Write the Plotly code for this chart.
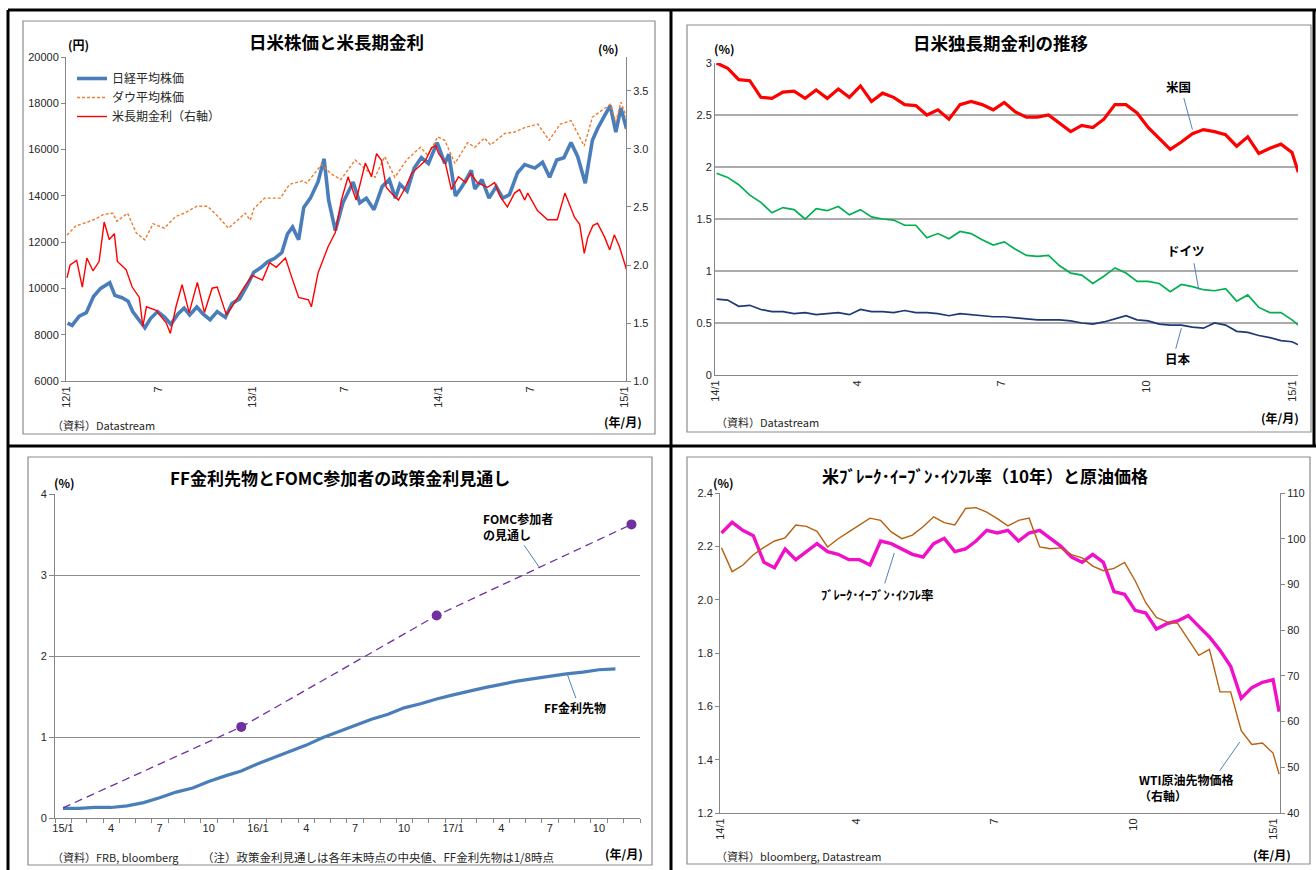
import pandas as pd
import plotly.graph_objects as go

W, H = 1316, 870
JP = "Noto Sans CJK JP"
NUM = "Liberation Sans"
AXIS_GRAY = "#868686"
TXT = "#262626"


def fx(p):
    return p / W


def fy(p):
    return 1 - p / H


# ---------------- 日米株価と米長期金利 (2012/1 - 2015/1) ----------------
NIKKEI_DATES = [
    "2012-01-04", "2012-01-13", "2012-01-27", "2012-02-10", "2012-02-24", "2012-03-09", "2012-03-27",
    "2012-04-06", "2012-04-20", "2012-05-02", "2012-05-11", "2012-05-25", "2012-06-04", "2012-06-15",
    "2012-06-29", "2012-07-13", "2012-07-25", "2012-08-08", "2012-08-20", "2012-08-31", "2012-09-14",
    "2012-09-26", "2012-10-10", "2012-10-24", "2012-11-09", "2012-11-22", "2012-12-07", "2012-12-21",
    "2013-01-04", "2013-01-18", "2013-01-31", "2013-02-14", "2013-02-28", "2013-03-11", "2013-03-21",
    "2013-04-02", "2013-04-12", "2013-04-25", "2013-05-10", "2013-05-22", "2013-05-31", "2013-06-13",
    "2013-06-28", "2013-07-18", "2013-07-31", "2013-08-13", "2013-08-28", "2013-09-13", "2013-09-27",
    "2013-10-09", "2013-10-18", "2013-11-01", "2013-11-15", "2013-11-29", "2013-12-13", "2013-12-30",
    "2014-01-14", "2014-01-22", "2014-02-04", "2014-02-17", "2014-03-07", "2014-03-14", "2014-03-28",
    "2014-04-11", "2014-04-25", "2014-05-08", "2014-05-21", "2014-06-06", "2014-06-20", "2014-07-10",
    "2014-07-25", "2014-08-08", "2014-08-22", "2014-09-05", "2014-09-19", "2014-10-02", "2014-10-17",
    "2014-10-31", "2014-11-10", "2014-11-21", "2014-12-05", "2014-12-16", "2014-12-26", "2015-01-06",
]
NIKKEI_YEN = [
    8500, 8400, 8800, 8950, 9650, 10000, 10250,
    9700, 9600, 9450, 9000, 8600, 8300, 8700,
    9000, 8750, 8450, 8900, 9150, 8850, 9200,
    8900, 8650, 9000, 8750, 9350, 9550, 10100,
    10700, 10900, 11150, 11300, 11550, 12350, 12650,
    12100, 13500, 13900, 14600, 15600, 13800, 12500,
    13700, 14600, 13700, 13900, 13400, 14400, 14700,
    13900, 14500, 14200, 15200, 15650, 15400, 16300,
    15400, 15800, 14000, 14400, 15100, 14300, 14700,
    13900, 14400, 13900, 14050, 15000, 15350, 15200,
    15450, 14800, 15550, 15650, 16300, 15700, 14550,
    16400, 16900, 17350, 17900, 16750, 17800, 16900,
]

DOW_DATES = [
    "2012-01-03", "2012-01-20", "2012-02-10", "2012-02-28", "2012-03-15", "2012-04-02", "2012-04-10",
    "2012-05-01", "2012-05-18", "2012-06-04", "2012-06-20", "2012-07-12", "2012-08-03", "2012-08-20",
    "2012-09-14", "2012-10-05", "2012-10-26", "2012-11-15", "2012-12-03", "2012-12-18", "2012-12-28",
    "2013-01-04", "2013-01-25", "2013-02-25", "2013-03-15", "2013-04-10", "2013-04-18", "2013-05-17",
    "2013-06-05", "2013-06-24", "2013-07-22", "2013-08-30", "2013-09-18", "2013-10-08", "2013-10-31",
    "2013-11-27", "2013-12-12", "2013-12-31", "2014-01-14", "2014-02-03", "2014-02-28", "2014-03-14",
    "2014-04-02", "2014-04-14", "2014-05-12", "2014-05-30", "2014-06-20", "2014-07-16", "2014-08-07",
    "2014-08-29", "2014-09-19", "2014-10-15", "2014-10-31", "2014-11-26", "2014-12-05", "2014-12-16",
    "2014-12-26", "2015-01-06",
]
DOW_USD = [
    12300, 12700, 12850, 13000, 13200, 13250, 12900,
    13250, 12400, 12100, 12800, 12600, 13100, 13250,
    13550, 13550, 13100, 12600, 12950, 13250, 12950,
    13450, 13900, 13900, 14500, 14650, 14550, 15350,
    14950, 14700, 15550, 14800, 15700, 14800, 15550,
    16100, 15750, 16550, 16400, 15400, 16300, 16100,
    16500, 16200, 16700, 16750, 16950, 17100, 16400,
    17100, 17250, 16150, 17400, 17800, 17950, 17200,
    18050, 17400,
]

UST_DATES = [
    "2012-01-03", "2012-01-09", "2012-01-22", "2012-02-02", "2012-02-11", "2012-02-23", "2012-03-06",
    "2012-03-16", "2012-03-26", "2012-04-05", "2012-04-11", "2012-04-28", "2012-05-10", "2012-05-24",
    "2012-05-31", "2012-06-07", "2012-06-26", "2012-07-16", "2012-07-24", "2012-08-04", "2012-08-16",
    "2012-08-30", "2012-09-15", "2012-09-29", "2012-10-14", "2012-10-24", "2012-11-11", "2012-11-22",
    "2012-12-16", "2013-01-01", "2013-01-21", "2013-02-04", "2013-02-17", "2013-03-07", "2013-03-19",
    "2013-04-02", "2013-04-21", "2013-04-27", "2013-05-10", "2013-05-30", "2013-06-13", "2013-06-25",
    "2013-07-08", "2013-07-24", "2013-08-11", "2013-08-23", "2013-09-02", "2013-09-12", "2013-09-21",
    "2013-10-01", "2013-10-15", "2013-10-29", "2013-11-10", "2013-11-23", "2013-12-07", "2013-12-19",
    "2013-12-27", "2014-01-02", "2014-01-15", "2014-01-27", "2014-02-10", "2014-02-24", "2014-03-06",
    "2014-03-19", "2014-04-08", "2014-04-22", "2014-05-03", "2014-05-17", "2014-05-31", "2014-06-10",
    "2014-06-20", "2014-06-26", "2014-07-15", "2014-08-04", "2014-08-23", "2014-09-07", "2014-09-26",
    "2014-10-06", "2014-10-15", "2014-10-22", "2014-11-01", "2014-11-10", "2014-11-24", "2014-12-04",
    "2014-12-13", "2014-12-23", "2015-01-06",
]
UST_10Y = [
    1.89, 2.00, 2.04, 1.81, 2.06, 1.95, 2.03,
    2.37, 2.22, 2.27, 2.03, 1.96, 1.81, 1.72,
    1.47, 1.64, 1.61, 1.50, 1.41, 1.64, 1.83,
    1.59, 1.85, 1.59, 1.80, 1.81, 1.57, 1.64,
    1.81, 1.91, 1.87, 2.02, 1.98, 2.06, 1.90,
    1.72, 1.70, 1.64, 1.93, 2.16, 2.28, 2.56,
    2.76, 2.56, 2.88, 2.76, 2.96, 2.90, 2.67,
    2.62, 2.56, 2.67, 2.79, 2.84, 2.90, 3.01,
    3.03, 2.96, 2.88, 2.65, 2.76, 2.71, 2.79,
    2.71, 2.67, 2.71, 2.59, 2.50, 2.62, 2.65,
    2.56, 2.62, 2.47, 2.39, 2.39, 2.62, 2.41,
    2.35, 2.10, 2.24, 2.34, 2.36, 2.24, 2.13,
    2.26, 2.16, 1.96,
]
TL_TICK_DATES = ["2012-01-01", "2012-07-01", "2013-01-01", "2013-07-01", "2014-01-01", "2014-07-01", "2015-01-01"]
TL_TICK_TEXT = ["12/1", "7", "13/1", "7", "14/1", "7", "15/1"]

# ---------------- 週次データ (2014/1 - 2015/1) ----------------
WEEKS = list(pd.date_range("2014-01-02", periods=53, freq="7D").strftime("%Y-%m-%d")) + ["2015-01-05"]

US_10Y = [
    3.00, 2.95, 2.84, 2.83, 2.67, 2.66, 2.72, 2.73, 2.66, 2.74,
    2.66, 2.75, 2.67, 2.78, 2.63, 2.71, 2.67, 2.60, 2.59, 2.50,
    2.55, 2.46, 2.60, 2.63, 2.60, 2.55, 2.62, 2.53, 2.48, 2.48,
    2.50, 2.42, 2.34, 2.40, 2.38, 2.46, 2.60, 2.60, 2.52, 2.38,
    2.28, 2.17, 2.24, 2.32, 2.36, 2.34, 2.31, 2.20, 2.29, 2.13,
    2.18, 2.22, 2.14, 1.95,
]
DE_10Y = [
    1.94, 1.90, 1.83, 1.73, 1.66, 1.56, 1.61, 1.59, 1.50, 1.60,
    1.58, 1.62, 1.54, 1.59, 1.52, 1.50, 1.49, 1.44, 1.44, 1.32,
    1.36, 1.31, 1.38, 1.36, 1.30, 1.25, 1.28, 1.21, 1.15, 1.14,
    1.15, 1.05, 0.98, 0.96, 0.88, 0.95, 1.03, 0.98, 0.90, 0.90,
    0.88, 0.80, 0.87, 0.85, 0.82, 0.81, 0.83, 0.71, 0.77, 0.65,
    0.60, 0.60, 0.53, 0.48,
]
JP_10Y = [
    0.73, 0.72, 0.66, 0.67, 0.63, 0.61, 0.61, 0.59, 0.60, 0.58,
    0.59, 0.60, 0.58, 0.63, 0.61, 0.61, 0.60, 0.62, 0.60, 0.60,
    0.59, 0.57, 0.59, 0.58, 0.57, 0.56, 0.56, 0.55, 0.54, 0.53,
    0.53, 0.53, 0.52, 0.50, 0.49, 0.51, 0.54, 0.57, 0.53, 0.52,
    0.49, 0.48, 0.48, 0.46, 0.45, 0.50, 0.48, 0.42, 0.41, 0.38,
    0.36, 0.33, 0.32, 0.29,
]
BEI_10Y = [
    2.25, 2.29, 2.26, 2.24, 2.14, 2.12, 2.19, 2.15, 2.18, 2.21,
    2.18, 2.17, 2.15, 2.15, 2.13, 2.22, 2.21, 2.19, 2.17, 2.16,
    2.21, 2.23, 2.18, 2.19, 2.22, 2.26, 2.25, 2.26, 2.22, 2.25,
    2.26, 2.23, 2.20, 2.16, 2.14, 2.17, 2.14, 2.03, 2.02, 1.96,
    1.95, 1.89, 1.91, 1.92, 1.94, 1.90, 1.86, 1.81, 1.75, 1.63,
    1.67, 1.69, 1.70, 1.58,
]
WTI_USD = [
    98.0, 92.8, 94.2, 96.5, 98.1, 99.5, 100.2, 103.0, 102.7, 101.6,
    98.2, 100.0, 101.5, 103.0, 104.5, 104.0, 101.5, 100.0, 100.8, 102.6,
    104.8, 103.5, 103.0, 106.6, 106.8, 105.8, 104.4, 102.8, 104.0, 104.5,
    98.2, 97.8, 98.0, 96.5, 95.8, 94.0, 93.0, 93.5, 94.8, 90.8,
    86.0, 82.8, 81.8, 81.5, 78.0, 74.5, 75.8, 66.5, 66.5, 58.0,
    55.0, 55.3, 53.1, 48.5,
]
Y14_TICK_DATES = ["2014-01-01", "2014-04-01", "2014-07-01", "2014-10-01", "2015-01-01"]
Y14_TICK_TEXT = ["14/1", "4", "7", "10", "15/1"]

# ---------------- FF金利先物とFOMC見通し (月次, 2015/1 - 2017/12) ----------------
FF_MONTHS = list((pd.date_range("2015-01-01", periods=36, freq="MS") + pd.Timedelta(days=15)).strftime("%Y-%m-%d"))
FF_FUTURES = [
    0.12, 0.12, 0.13, 0.13, 0.15, 0.19, 0.25, 0.32, 0.37, 0.45,
    0.52, 0.58, 0.67, 0.75, 0.83, 0.90, 0.99, 1.07, 1.15, 1.22,
    1.28, 1.36, 1.41, 1.47, 1.52, 1.57, 1.61, 1.65, 1.69, 1.72,
    1.75, 1.78, 1.80, 1.83, 1.84, None,
]
FOMC_DATES = ["2015-01-16", "2015-12-16", "2016-12-16", "2017-12-16"]
FOMC_MEDIAN = [0.125, 1.125, 2.5, 3.625]
FOMC_MARKER = [0, 10, 10, 10]
FF_TICK_TEXT = ["15/1", "4", "7", "10", "16/1", "4", "7", "10", "17/1", "4", "7", "10"]

fig = go.Figure()

# 日米株価と米長期金利
fig.add_trace(go.Scatter(x=NIKKEI_DATES, y=NIKKEI_YEN, name="日経平均株価", mode="lines",
                         line=dict(color="#4A7EBB", width=3.6), xaxis="x", yaxis="y"))
fig.add_trace(go.Scatter(x=DOW_DATES, y=DOW_USD, name="ダウ平均株価", mode="lines",
                         line=dict(color="#ED7D31", width=1.4, dash="3px,2px"), xaxis="x", yaxis="y"))
fig.add_trace(go.Scatter(x=UST_DATES, y=UST_10Y, name="米長期金利（右軸）", mode="lines",
                         line=dict(color="#FF0000", width=1.4), xaxis="x", yaxis="y2"))

# 日米独長期金利
fig.add_trace(go.Scatter(x=WEEKS, y=US_10Y, mode="lines", showlegend=False,
                         line=dict(color="#FF0000", width=3.2), xaxis="x2", yaxis="y3"))
fig.add_trace(go.Scatter(x=WEEKS, y=DE_10Y, mode="lines", showlegend=False,
                         line=dict(color="#00B050", width=1.7), xaxis="x2", yaxis="y3"))
fig.add_trace(go.Scatter(x=WEEKS, y=JP_10Y, mode="lines", showlegend=False,
                         line=dict(color="#1F3A73", width=1.7), xaxis="x2", yaxis="y3"))

# FF金利先物とFOMC見通し
fig.add_trace(go.Scatter(x=FF_MONTHS, y=FF_FUTURES, mode="lines", showlegend=False,
                         line=dict(color="#4A7EBB", width=3.2), xaxis="x3", yaxis="y4"))
fig.add_trace(go.Scatter(x=FOMC_DATES, y=FOMC_MEDIAN, mode="lines+markers", showlegend=False,
                         line=dict(color="#7030A0", width=1.3, dash="8px,5px"),
                         marker=dict(color="#7030A0", size=FOMC_MARKER, opacity=1,
                                     line=dict(width=0)),
                         xaxis="x3", yaxis="y4"))

# ブレーク・イーブン・インフレ率と原油価格
fig.add_trace(go.Scatter(x=WEEKS, y=BEI_10Y, mode="lines", showlegend=False,
                         line=dict(color="#F010C8", width=3.4), xaxis="x4", yaxis="y5"))
fig.add_trace(go.Scatter(x=WEEKS, y=WTI_USD, mode="lines", showlegend=False,
                         line=dict(color="#B8600F", width=1.4), xaxis="x4", yaxis="y6"))

tick_font = dict(family=NUM, size=11, color=TXT)
base_axis = dict(showline=True, linecolor=AXIS_GRAY, linewidth=1, showgrid=False, zeroline=False,
                 tickfont=tick_font, automargin=False, fixedrange=True)

fig.update_layout(
    width=W, height=H, autosize=False,
    margin=dict(l=0, r=0, t=0, b=0),
    paper_bgcolor="white", plot_bgcolor="rgba(0,0,0,0)",
    showlegend=True,
    legend=dict(x=fx(72), y=fy(64), xanchor="left", yanchor="top",
                font=dict(family=JP, size=12, color=TXT), bgcolor="rgba(0,0,0,0)",
                tracegroupgap=0, itemwidth=30),
    xaxis=dict(base_axis, domain=[fx(66), fx(626)], anchor="y", type="date",
               range=["2012-01-01", "2015-01-05"], tickmode="array",
               tickvals=TL_TICK_DATES, ticktext=TL_TICK_TEXT, tickangle=-90, ticks=""),
    yaxis=dict(base_axis, domain=[fy(381), fy(57)], anchor="x", range=[6000, 20000],
               dtick=2000, tickformat="d", ticks="outside", ticklen=4, tickcolor=AXIS_GRAY),
    yaxis2=dict(base_axis, overlaying="y", anchor="x", side="right", range=[1.0, 3.793],
                tickmode="array", tickvals=[1.0, 1.5, 2.0, 2.5, 3.0, 3.5], tickformat=".1f",
                ticks="outside", ticklen=4, tickcolor=AXIS_GRAY),
    xaxis2=dict(base_axis, domain=[fx(715), fx(1298)], anchor="y3", type="date",
                range=["2014-01-01", "2015-01-04 19:00"], tickmode="array",
                tickvals=Y14_TICK_DATES, ticktext=Y14_TICK_TEXT, tickangle=-90, ticks=""),
    yaxis3=dict(base_axis, domain=[fy(375), fy(63)], anchor="x2", range=[0, 3.0001], dtick=0.5,
                showgrid=True, gridcolor="#ABABAB", gridwidth=1.6, ticks=""),
    xaxis3=dict(base_axis, domain=[fx(55), fx(640)], anchor="y4", type="date",
                range=["2015-01-01", "2018-01-01"], tickmode="array",
                tickvals=FF_MONTHS[::3], ticktext=FF_TICK_TEXT, ticks="",
                minor=dict(tickmode="array",
                           tickvals=list(pd.date_range("2015-01-01", "2018-01-01", freq="MS").strftime("%Y-%m-%d")),
                           ticks="outside", ticklen=4, tickcolor=AXIS_GRAY, showgrid=False)),
    yaxis4=dict(base_axis, domain=[fy(818), fy(494)], anchor="x3", range=[0, 4.0001], dtick=1,
                showgrid=True, gridcolor="#8C8C8C", gridwidth=1, ticks="outside", ticklen=5,
                tickcolor=AXIS_GRAY),
    xaxis4=dict(base_axis, domain=[fx(720), fx(1280)], anchor="y5", type="date",
                range=["2014-01-01", "2015-01-05 14:00"], tickmode="array",
                tickvals=Y14_TICK_DATES, ticktext=Y14_TICK_TEXT, tickangle=-90, ticks=""),
    yaxis5=dict(base_axis, domain=[fy(813), fy(493)], anchor="x4", range=[1.2, 2.4], dtick=0.2,
                tickformat=".1f", ticks="outside", ticklen=4, tickcolor=AXIS_GRAY),
    yaxis6=dict(base_axis, overlaying="y5", anchor="x4", side="right", range=[40, 110], dtick=10,
                ticks="outside", ticklen=4, tickcolor=AXIS_GRAY),
)

# panel frames and black cell borders
shapes = []
for x0, y0, x1, y1 in [(23, 21, 655, 434), (687, 25, 1311, 432), (28, 457, 652, 865), (687, 457, 1310, 864)]:
    shapes.append(dict(type="rect", xref="paper", yref="paper", x0=fx(x0), y0=fy(y0), x1=fx(x1), y1=fy(y1),
                       line=dict(color="#8C8C8C", width=1.2), fillcolor="rgba(0,0,0,0)", layer="below"))
for x0, y0, x1, y1 in [(8, 10, 1316, 10), (8, 10, 8, 870), (671, 10, 671, 870), (8, 446, 1316, 446),
                       (1314, 10, 1314, 446)]:
    shapes.append(dict(type="line", xref="paper", yref="paper", x0=fx(x0), y0=fy(y0), x1=fx(x1), y1=fy(y1),
                       line=dict(color="black", width=3)))
fig.update_layout(shapes=shapes)

ann = []


def text(s, x, y, size=11, bold=False, anchor="center", color=TXT):
    ann.append(dict(text=f"<b>{s}</b>" if bold else s, x=fx(x), y=fy(y), xref="paper", yref="paper",
                    xanchor=anchor, yanchor="middle", showarrow=False,
                    font=dict(family=JP, size=size, color=color)))


# titles
text("日米株価と米長期金利", 336, 41, 17.5, True, color="black")
text("日米独長期金利の推移", 1000, 43, 17.5, True, color="black")
text("FF金利先物とFOMC参加者の政策金利見通し", 340, 477, 17, True, color="black")
text("米ﾌﾞﾚｰｸ･ｲｰﾌﾞﾝ･ｲﾝﾌﾚ率（10年）と原油価格", 985, 475, 17, True, color="black")

# units
text("(円)", 78, 45, 12, True, color="black")
text("(%)", 608, 49, 12, True, color="black")
text("(年/月)", 623, 421, 12, True, color="black")
text("(%)", 724, 48, 12, True, color="black")
text("(年/月)", 1280, 418, 12, True, color="black")
text("(%)", 64, 482, 12, True, color="black")
text("(年/月)", 624, 853, 12, True, color="black")
text("(%)", 723, 482, 12, True, color="black")
text("(年/月)", 1272, 854, 12, True, color="black")

# sources and notes
text("（資料）Datastream", 50, 425, 11, anchor="left")
text("（資料）Datastream", 714, 422, 11, anchor="left")
text("（資料）FRB, bloomberg", 50, 857, 11, anchor="left")
text("（注）政策金利見通しは各年末時点の中央値、FF金利先物は1/8時点", 200, 857, 11.5, anchor="left")
text("（資料）bloomberg, Datastream", 714, 856, 11, anchor="left")


def label(s, x, y, xref, yref, anchor="center", size=12.5):
    ann.append(dict(text=f"<b>{s}</b>", x=x, y=y, xref=xref, yref=yref, xanchor=anchor, yanchor="middle",
                    align="left" if anchor == "left" else "center",
                    showarrow=False, font=dict(family=JP, size=size, color="black")))


def leader(x, y, xref, yref, ax, ay):
    ann.append(dict(text="", x=x, y=y, xref=xref, yref=yref, ax=ax, ay=ay, showarrow=True,
                    arrowhead=0, arrowwidth=1, arrowcolor="#4F81BD", standoff=0))


# series labels with leader lines
label("米国", "2014-10-21", 2.77, "x2", "y3")
leader("2014-10-30", 2.36, "x2", "y3", -9, -33)
label("ドイツ", "2014-10-26", 1.20, "x2", "y3")
leader("2014-11-03", 0.82, "x2", "y3", -5, -28)
label("日本", "2014-10-21", 0.16, "x2", "y3")
leader("2014-10-23", 0.45, "x2", "y3", -6, 22)

label("FOMC参加者<br>の見通し", "2017-03-10", 3.6, "x3", "y4", anchor="left", size=12)
leader("2017-06-26", 3.10, "x3", "y4", -16, -23)
label("FF金利先物", "2017-09-01", 1.36, "x3", "y4", size=12)
leader("2017-08-18", 1.77, "x3", "y4", 9, 25)

label("ﾌﾞﾚｰｸ･ｲｰﾌﾞﾝ･ｲﾝﾌﾚ率", "2014-04-15", 2.02, "x4", "y5", size=12.5)
leader("2014-04-26", 2.175, "x4", "y5", -10, 32)
label("WTI原油先物価格<br>（右軸）", "2014-10-03", 45.6, "x4", "y6", anchor="left", size=12)
leader("2014-12-10", 55.5, "x4", "y6", -21, 30)

fig.update_layout(annotations=ann)

fig.write_html("out.html")
